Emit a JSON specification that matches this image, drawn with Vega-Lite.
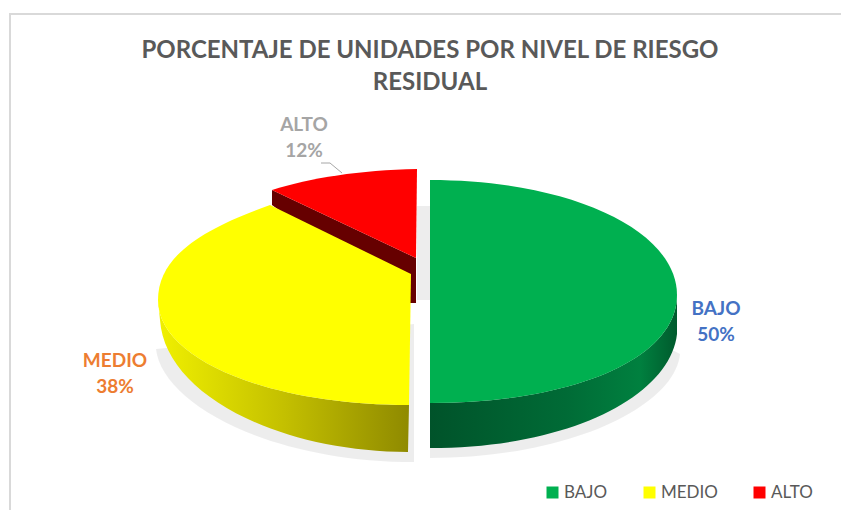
{"$schema":"https://vega.github.io/schema/vega-lite/v6.json","width":840,"height":520,"autosize":{"type":"none"},"padding":{"left":10,"top":14,"right":0,"bottom":0},"background":"white","view":{"stroke":"#d9d9d9","strokeWidth":2},"title":{"text":["PORCENTAJE DE UNIDADES POR NIVEL DE RIESGO","RESIDUAL"],"anchor":"middle","orient":"top","offset":-81,"font":"Lato","fontSize":24,"fontWeight":"bold","color":"#595959","lineHeight":32},"data":{"values":[{"nivel":"BAJO","porcentaje":50,"etiqueta":"BAJO\n50%"},{"nivel":"MEDIO","porcentaje":38,"etiqueta":"MEDIO\n38%"},{"nivel":"ALTO","porcentaje":12,"etiqueta":"ALTO\n12%"}]},"resolve":{"scale":{"shape":"independent"}},"layer":[{"mark":{"type":"point","filled":true,"opacity":1,"size":40000,"strokeWidth":0,"fill":"#000000","fillOpacity":0.07},"encoding":{"shape":{"field":"nivel","legend":null,"scale":{"domain":["BAJO","MEDIO","ALTO"],"range":["M0,-0.5 L2.5,0.8 C2.45,1.32 1.4,1.84 0,1.84 Z","M-0.16,1.88 C-1.6,1.88 -2.68,1.3 -2.74,0.75 L-0.16,0.5 Z","M-0.13,-0.68 L0,-0.68 L0,0.26 L-0.13,0.26 Z"]}}}},{"transform":[{"filter":"datum.nivel==='BAJO'"}],"mark":{"type":"point","filled":true,"opacity":1,"size":40000,"strokeWidth":0,"fill":{"gradient":"linear","x1":0,"x2":1,"y1":0,"y2":0,"stops":[{"offset":0,"color":"#00532a"},{"offset":0.55,"color":"#006b36"},{"offset":0.85,"color":"#00803f"},{"offset":1,"color":"#005a2d"}]}},"encoding":{"shape":{"field":"nivel","legend":null,"scale":{"domain":["BAJO"],"range":["M0,1.29 C1.4,1.29 2.47,0.86 2.47,0.21 L2.47,0.6 C2.4,1.22 1.4,1.74 0,1.74 Z"]}}}},{"transform":[{"filter":"datum.nivel==='ALTO'"}],"mark":{"type":"point","filled":true,"opacity":1,"size":40000,"strokeWidth":0,"fill":"#660000"},"encoding":{"shape":{"field":"nivel","legend":null,"scale":{"domain":["ALTO"],"range":["M-1.58,-0.84 L-0.14,-0.16 L-0.14,0.29 L-0.25,0.29 L-1.58,-0.69 Z"]}}}},{"transform":[{"filter":"datum.nivel==='MEDIO'"}],"mark":{"type":"point","filled":true,"opacity":1,"size":40000,"strokeWidth":0,"fill":{"gradient":"linear","x1":0,"x2":1,"y1":0,"y2":0,"stops":[{"offset":0,"color":"#f0f000"},{"offset":0.5,"color":"#c4c000"},{"offset":1,"color":"#8f8a00"}]}},"encoding":{"shape":{"field":"nivel","legend":null,"scale":{"domain":["MEDIO"],"range":["M-0.21,1.31 C-1.6,1.31 -2.72,0.86 -2.72,0.26 L-2.7,0.46 C-2.65,1.21 -1.5,1.78 -0.22,1.78 Z"]}}}},{"mark":{"type":"point","filled":true,"opacity":1,"size":40000,"strokeWidth":0},"encoding":{"color":{"field":"nivel","type":"nominal","scale":{"domain":["BAJO","MEDIO","ALTO"],"range":["#00b050","#ffff00","#ff0000"]},"legend":{"title":null,"orient":"none","legendX":534,"legendY":470,"direction":"horizontal","columns":3,"gridAlign":"none","columnPadding":33,"symbolType":"square","symbolSize":144,"symbolStrokeWidth":0,"labelFont":"Lato","labelFontSize":17,"labelColor":"#595959","labelOffset":3}},"shape":{"field":"nivel","legend":null,"scale":{"domain":["BAJO","MEDIO","ALTO"],"range":["M0,-0.94 C1.4,-0.94 2.47,-0.44 2.47,0.21 C2.47,0.86 1.4,1.29 0,1.29 Z","M-0.21,1.31 C-1.6,1.31 -2.72,0.86 -2.72,0.26 C-2.72,-0.19 -2.25,-0.46 -1.6,-0.69 L-0.19,0 Z","M-0.13,-1.05 C-0.7,-1.04 -1.2,-0.96 -1.58,-0.84 L-0.14,-0.16 Z"]}}}},{"transform":[{"filter":"datum.nivel==='ALTO'"}],"mark":{"type":"point","filled":false,"opacity":1,"size":40000,"strokeWidth":1,"stroke":"#a6a6a6","shape":"M-1.09,-1.11 L-1,-1.11 L-0.88,-1.01"},"encoding":{}},{"transform":[{"filter":"datum.nivel==='BAJO'"}],"mark":{"type":"text","dx":286,"dy":35,"font":"Lato","fontSize":19,"fontWeight":"bold","color":"#4472c4","lineBreak":"\n","lineHeight":26,"align":"center","baseline":"middle"},"encoding":{"text":{"field":"etiqueta"}}},{"transform":[{"filter":"datum.nivel==='MEDIO'"}],"mark":{"type":"text","dx":-315,"dy":87,"font":"Lato","fontSize":19,"fontWeight":"bold","color":"#ed7d31","lineBreak":"\n","lineHeight":26,"align":"center","baseline":"middle"},"encoding":{"text":{"field":"etiqueta"}}},{"transform":[{"filter":"datum.nivel==='ALTO'"}],"mark":{"type":"text","dx":-126,"dy":-149,"font":"Lato","fontSize":19,"fontWeight":"bold","color":"#a5a5a5","lineBreak":"\n","lineHeight":26,"align":"center","baseline":"middle"},"encoding":{"text":{"field":"etiqueta"}}}]}
